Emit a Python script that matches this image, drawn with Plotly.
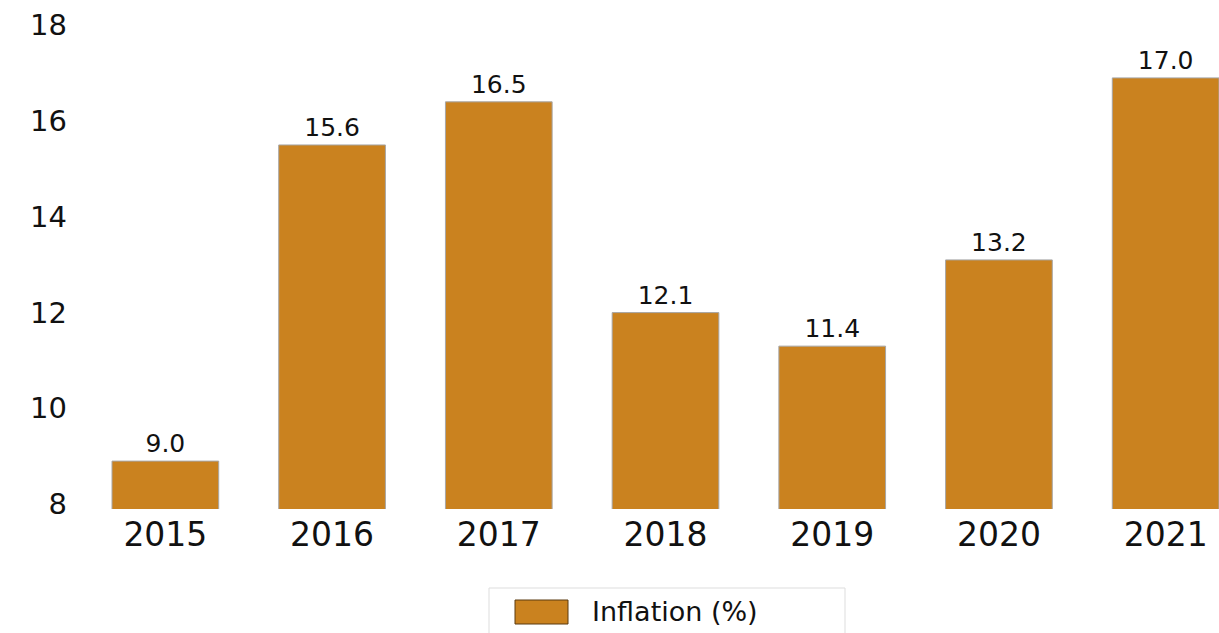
import plotly.graph_objects as go

years = ["2015", "2016", "2017", "2018", "2019", "2020", "2021"]
inflation = [9.0, 15.6, 16.5, 12.1, 11.4, 13.2, 17.0]
y_ticks = [8, 10, 12, 14, 16, 18]
series_name = "Inflation (%)"

FONT = "DejaVu Sans"
BAR = "#CA821F"

fig = go.Figure()
fig.add_trace(go.Bar(
    x=years, y=inflation, name=series_name,
    marker=dict(color=BAR, line=dict(color="#A6A6A6", width=1)),
    text=[f"{v:.1f}" for v in inflation], textposition="outside",
    textfont=dict(family=FONT, size=25, color="#111111"),
    cliponaxis=False, showlegend=False,
))

fig.update_layout(
    width=1219, height=633,
    margin=dict(l=82, r=0, t=30, b=124),
    paper_bgcolor="white", plot_bgcolor="white",
    bargap=0.36,
    xaxis=dict(range=[-0.5, 6.32], showgrid=False, showline=False, zeroline=False,
               tickfont=dict(family=FONT, size=33, color="#111111"), ticks="",
               ticklabelstandoff=3),
    yaxis=dict(range=[8, 18], tickvals=y_ticks, showgrid=False, showline=False, zeroline=False,
               tickfont=dict(family=FONT, size=29, color="#111111"), ticks="",
               ticklabelstandoff=14, ticklabelshift=-5),
)

# manual legend
fig.add_shape(type="rect", xref="paper", yref="paper",
              x0=(489-82)/1137, x1=(845-82)/1137, y0=(509-640)/479, y1=(509-588)/479,
              line=dict(color="#DDDDDD", width=1), fillcolor="white", layer="below")
fig.add_shape(type="rect", xref="paper", yref="paper",
              x0=(515-82)/1137, x1=(568-82)/1137, y0=(509-624)/479, y1=(509-600)/479,
              line=dict(color="#5A3A10", width=1), fillcolor=BAR)
fig.add_annotation(xref="paper", yref="paper", x=(590-82)/1137, y=(509-611)/479,
                   xanchor="left", yanchor="middle", showarrow=False,
                   text=series_name, font=dict(family=FONT, size=27, color="#111111"))

fig.write_html("out.html")
